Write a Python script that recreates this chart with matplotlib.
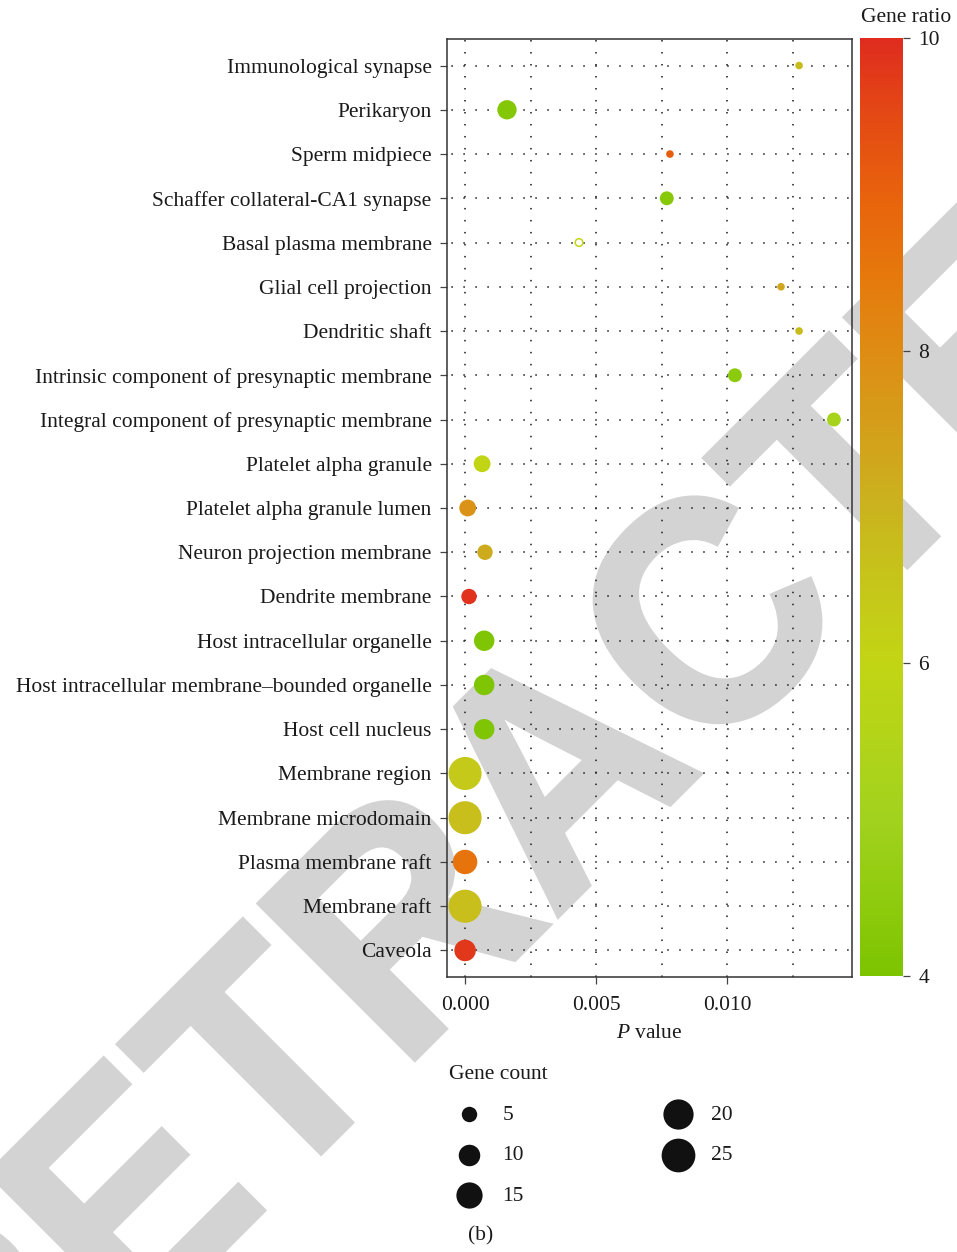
import numpy as np
import matplotlib
matplotlib.use("Agg")
from matplotlib import pyplot as plt
from matplotlib.colors import LinearSegmentedColormap, Normalize
from matplotlib.cm import ScalarMappable
from matplotlib.textpath import TextPath
from matplotlib.patches import PathPatch
from matplotlib.font_manager import FontProperties
from matplotlib.transforms import Affine2D

# GO cellular component terms, top to bottom
terms = [
    "Immunological synapse",
    "Perikaryon",
    "Sperm midpiece",
    "Schaffer collateral-CA1 synapse",
    "Basal plasma membrane",
    "Glial cell projection",
    "Dendritic shaft",
    "Intrinsic component of presynaptic membrane",
    "Integral component of presynaptic membrane",
    "Platelet alpha granule",
    "Platelet alpha granule lumen",
    "Neuron projection membrane",
    "Dendrite membrane",
    "Host intracellular organelle",
    "Host intracellular membrane\u2013bounded organelle",
    "Host cell nucleus",
    "Membrane region",
    "Membrane microdomain",
    "Plasma membrane raft",
    "Membrane raft",
    "Caveola",
]
p_values = [0.01275, 0.0016, 0.00782, 0.0077, 0.00435, 0.01206, 0.01275,
            0.0103, 0.01408, 0.00065, 0.0001, 0.00076, 0.00015,
            0.00073, 0.00073, 0.00073, 0.0, 0.0, 0.0, 0.0, 0.0]
gene_ratio = [6.8, 4.2, 9.1, 4.3, 6.0, 7.3, 6.8,
              4.4, 5.2, 6.0, 7.8, 7.2, 9.9,
              4.1, 4.1, 4.1, 6.4, 6.7, 8.6, 6.7, 9.8]
gene_count = [1, 8, 1, 4, 1, 1, 1,
              4, 4, 6, 6, 5, 5,
              9, 9, 9, 24, 24, 13, 24, 10]
filled = [True, True, True, True, False, True, True,
          True, True, True, True, True, True,
          True, True, True, True, True, True, True, True]

legend_counts = [5, 10, 15, 20, 25]
ratio_ticks = [4, 6, 8, 10]
p_ticks = [0.0, 0.005, 0.010]

plt.rcParams["font.family"] = ["Liberation Serif", "DejaVu Serif"]
plt.rcParams["mathtext.fontset"] = "custom"
plt.rcParams["mathtext.rm"] = "Liberation Serif"
plt.rcParams["mathtext.it"] = "Liberation Serif:italic"
FS = 15.5
INK = "#1a1a1a"


def marker_area(c):
    # area in pt^2, grows linearly with gene count
    c = np.asarray(c, dtype=float)
    return 0.5184 * (13 + 45 * c)


cmap = LinearSegmentedColormap.from_list("ratio", [
    (0.0, "#7DC400"), (1 / 6, "#A2D21E"), (2 / 6, "#C2D514"),
    (2.5 / 6, "#C6C61A"), (3 / 6, "#CAB31E"), (3.5 / 6, "#D49F1A"),
    (4 / 6, "#DE8C14"), (4.5 / 6, "#E6780C"), (5 / 6, "#E8620C"),
    (5.5 / 6, "#E44A14"), (1.0, "#DF2C1E")])
norm = Normalize(4, 10)

W, H = 957, 1252
fig = plt.figure(figsize=(W / 100, H / 100), dpi=100)
fig.patch.set_facecolor("white")

# watermark behind everything (slightly condensed bold sans, 45 degrees)
wm = TextPath((0, 0), "RETRACTED", size=1,
              prop=FontProperties(family="Liberation Sans", weight="bold"))
bb = wm.get_extents()
wm_tr = (Affine2D().translate(-(bb.x0 + bb.x1) / 2, 0).scale(298.5, 320)
         .rotate_deg(45).translate(632, H - 842))
fig.add_artist(PathPatch(wm, transform=wm_tr, facecolor="#D3D3D3",
                         edgecolor="#D3D3D3", lw=3.6, zorder=-10))

ax = fig.add_axes([447 / W, 1 - 977 / H, 405 / W, 938 / H])
ax.patch.set_alpha(0)

y = np.arange(len(terms))
fc = [cmap(norm(r)) if f else "none" for r, f in zip(gene_ratio, filled)]
ec = ["none" if f else cmap(norm(r)) for r, f in zip(gene_ratio, filled)]
ax.scatter(p_values, y, s=marker_area(gene_count), c=fc, edgecolors=ec,
           linewidths=[0 if f else 1.1 for f in filled], zorder=3)

ax.set_xlim(-0.00069, 0.01477)
ax.set_ylim(len(terms) - 0.4, -0.6)
ax.set_yticks(y)
ax.set_yticklabels(terms, fontsize=FS, color=INK)
ax.set_xticks(p_ticks)
ax.set_xticklabels(["0.000", "0.005", "0.010"], fontsize=FS, color=INK)
ax.set_xticks([0.0025, 0.0075, 0.0125], minor=True)
ax.tick_params(axis="both", which="major", length=5, width=0.9,
               color="#444444", pad=6)
ax.tick_params(axis="x", which="major", pad=9)
ax.tick_params(axis="x", which="minor", length=0)

dots = (0, (1, 6.85))
ax.grid(True, which="both", axis="x", color="#1a1a1a", lw=1.1, linestyle=dots)
ax.grid(True, which="major", axis="y", color="#1a1a1a", lw=1.1,
        linestyle=(5, (1, 6.85)))
for s in ax.spines.values():
    s.set_color("#333333")
    s.set_linewidth(1.1)

ax.set_xlabel("$P$ value", fontsize=FS, color=INK, labelpad=6)

# colour key
cax = fig.add_axes([860 / W, 1 - 976 / H, 43 / W, 938 / H])
cb = fig.colorbar(ScalarMappable(norm=norm, cmap=cmap), cax=cax)
cb.outline.set_visible(False)
cb.set_ticks(ratio_ticks)
cax.tick_params(length=5, width=0.9, color="#444444", labelsize=FS,
                labelcolor=INK, pad=6)
fig.text(906 / W, 1 - 17 / H, "Gene ratio", fontsize=FS, color=INK,
         ha="center", va="center")

# size key
handles = [ax.scatter([], [], s=marker_area(c), color="#111111", linewidths=0)
           for c in legend_counts]
leg = fig.legend(handles, [str(c) for c in legend_counts], ncol=2,
                 title="Gene count", loc="upper left",
                 bbox_to_anchor=(438 / W, 1 - 1054 / H), frameon=False,
                 fontsize=FS, title_fontsize=FS, borderpad=0,
                 handlelength=1.9, handletextpad=0.6, labelspacing=0.96,
                 columnspacing=6.19, alignment="left", scatterpoints=1)
for t in leg.get_texts():
    t.set_color(INK)
leg.get_title().set_color(INK)

fig.text(481 / W, 1 - 1236 / H, "(b)", fontsize=FS, color=INK,
         ha="center", va="center")

fig.savefig("out.png", dpi=100, facecolor="white")
